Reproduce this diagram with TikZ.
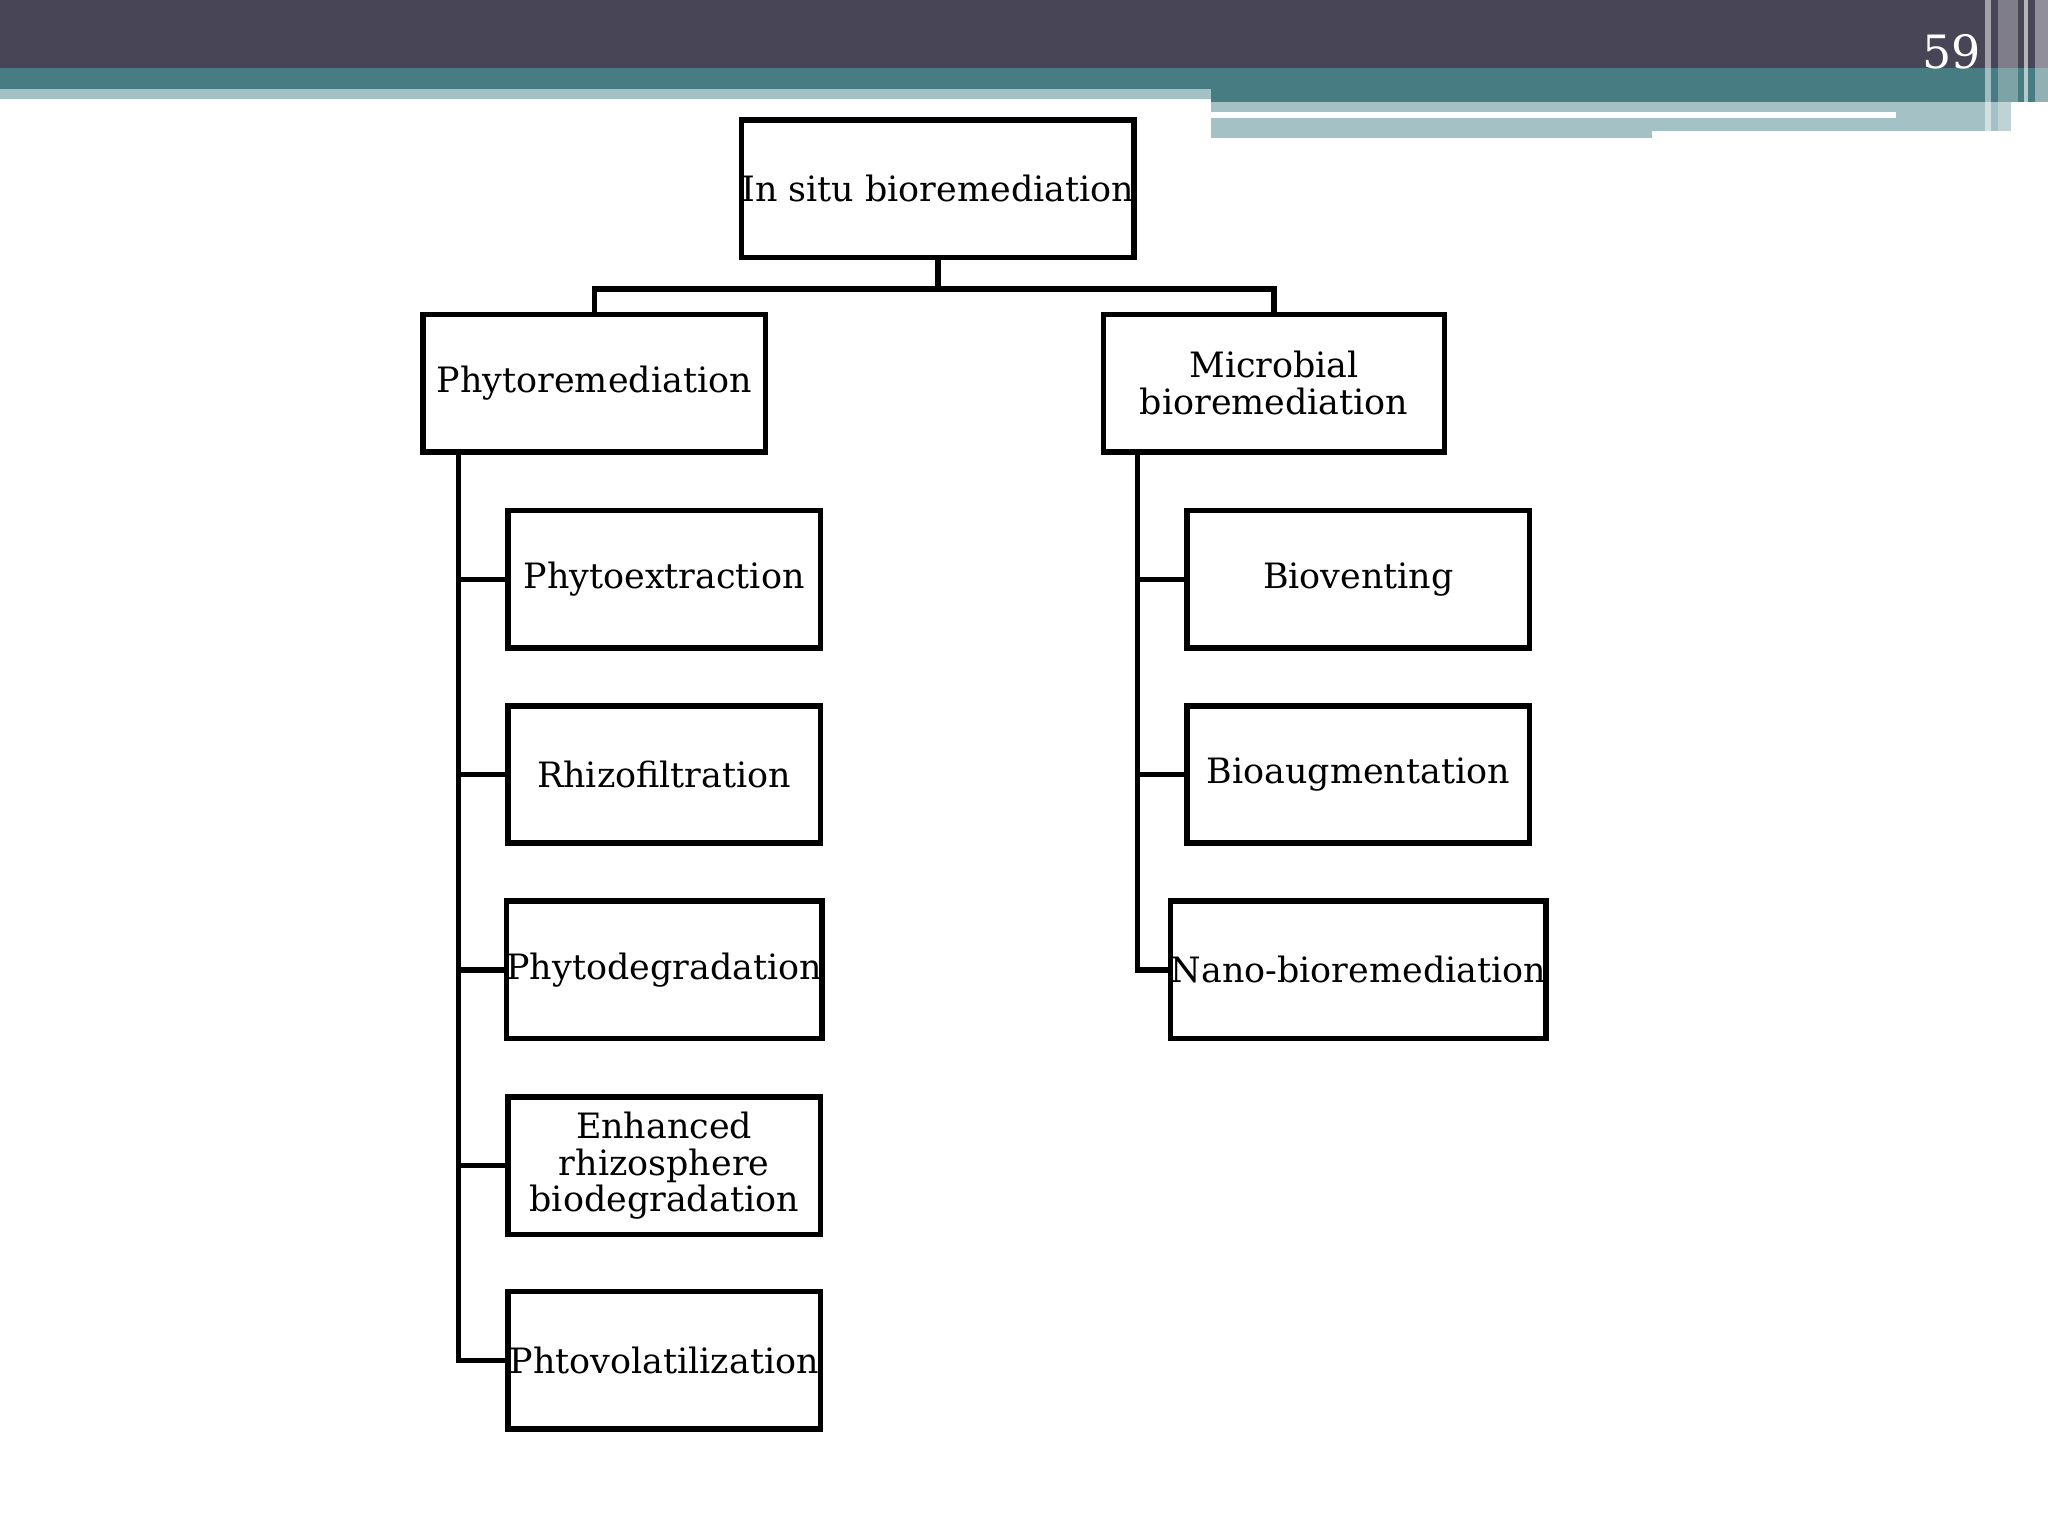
\documentclass[tikz,border=0pt]{standalone}
\usepackage{fontspec}
\setmainfont{DejaVu Serif}
\begin{document}
\begin{tikzpicture}[x=0.01cm,y=-0.01cm,
  box/.style={draw,line width=1.2pt,minimum width=2.6cm,minimum height=1.05cm,align=center,font=\fontsize{7.6}{8}\selectfont,inner sep=0pt},
  con/.style={line width=1.2pt}]
\useasboundingbox (0,0) rectangle (1568,1176);
\definecolor{dark}{HTML}{474556}\definecolor{teal}{HTML}{467C82}\definecolor{lt}{HTML}{A4C1C5}
\fill[dark] (0,0) rectangle (1568,52);
\fill[teal] (0,52) rectangle (1568,78);
\fill[lt] (0,68) rectangle (927,76);
\fill[white] (0,76) rectangle (927,78);
\fill[lt] (927,78) rectangle (1540,106);
\fill[white] (927,86) rectangle (1452,90);
\fill[white] (1265,100) rectangle (1540,106);
\fill[white,opacity=.5] (1520,0) rectangle (1524,106);
\fill[white,opacity=.3] (1530,0) rectangle (1545,106);
\fill[white,opacity=.6] (1550,0) rectangle (1553,106);
\fill[white,opacity=.4] (1558,0) rectangle (1568,106);
\node[text=white,font=\fontsize{10}{10}\selectfont] (pg) at (1494,40) {59};
\node[box,minimum width=2.62cm] (root) at (718,144.5) {In situ bioremediation};
\node[box,minimum width=2.62cm] (phy) at (455,293.5) {Phytoremediation};
\node[box,minimum width=2.61cm] (mic) at (975.5,293.5) {Microbial\\bioremediation};
\coordinate (ls) at (351,346); \coordinate (rs) at (871,346);
\foreach \n/\y/\t in {a/443.5/Phytoextraction,b/593/Rhizofiltration,c/742.5/Phytodegradation,d/892.5/{Enhanced\\rhizosphere\\biodegradation},e/1041.5/Phtovolatilization}{
  \node[box,minimum width=2.39cm] (\n) at (508.5,\y) {\t};
  \draw[con] (\n.west) -| (ls);}
\foreach \n/\y/\t in {f/443.5/Bioventing,g/593/Bioaugmentation,h/742.5/Nano-bioremediation}{
  \node[box,minimum width=2.62cm] (\n) at (1040,\y) {\t};
  \draw[con] (\n.west) -| (rs);}
\draw[con] (root.south) -- ++(0,22) -| (phy.north);
\draw[con] (root.south) -- ++(0,22) -| (mic.north);
\end{tikzpicture}
\end{document}
